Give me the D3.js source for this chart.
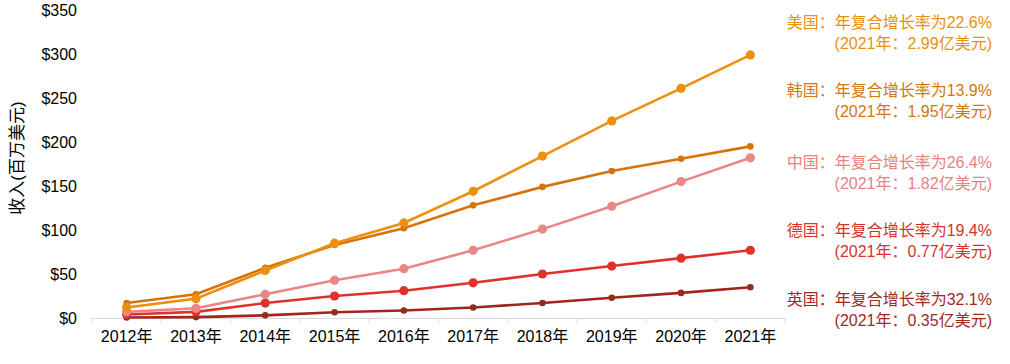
<!DOCTYPE html>
<html>
<head>
<meta charset="utf-8">
<script src="https://cdn.jsdelivr.net/npm/d3@7"></script>
<style>
  body { margin: 0; background: #fff; }
  svg text { font-family: "Liberation Sans", "Noto Sans CJK SC", sans-serif; }
</style>
</head>
<body>
<div id="chart"></div>
<script>
// data (millions of USD)
const years = ["2012年", "2013年", "2014年", "2015年", "2016年", "2017年", "2018年", "2019年", "2020年", "2021年"];
const usa = [12, 22, 54, 85, 108, 144, 184, 224, 261, 299];
const korea = [17, 27, 57, 83, 102, 128, 149, 167, 181, 195];
const china = [7, 11, 27, 43, 56, 77, 101, 127, 155, 182];
const germany = [4, 7, 17, 25, 31, 40, 50, 59, 68, 77];
const uk = [0.5, 1, 3, 6.5, 8.5, 12, 17, 23, 28.5, 35];
const yTicks = [0, 50, 100, 150, 200, 250, 300, 350];
const labels = [
  ["美国：年复合增长率为22.6%", "(2021年：2.99亿美元)"],
  ["韩国：年复合增长率为13.9%", "(2021年：1.95亿美元)"],
  ["中国：年复合增长率为26.4%", "(2021年：1.82亿美元)"],
  ["德国：年复合增长率为19.4%", "(2021年：0.77亿美元)"],
  ["英国：年复合增长率为32.1%", "(2021年：0.35亿美元)"]
];

const series = [
  { values: uk, line: "#a3231f", dot: "#8e3019", r: 3.3 },
  { values: germany, line: "#e0322b", dot: "#e0322b", r: 4.6 },
  { values: china, line: "#ec8585", dot: "#ec8585", r: 4.6 },
  { values: korea, line: "#d8720c", dot: "#d8720c", r: 3.3 },
  { values: usa, line: "#ee900f", dot: "#ee900f", r: 4.6 }
];
const labelColors = ["#e8900f", "#d5760f", "#ea8181", "#d8322b", "#a3281f"];

const width = 1010, height = 364;
const svg = d3.select("#chart").append("svg")
  .attr("width", width)
  .attr("height", height);

const x = d3.scaleBand().domain(years).range([92, 785]);
const y = d3.scaleLinear().domain([0, 350]).range([318, 10]);

// x axis
const xAxis = svg.append("g")
  .attr("transform", `translate(0, ${y(0)})`)
  .call(d3.axisBottom(x).tickSize(0).tickPadding(13));
xAxis.select(".domain").attr("stroke", "#d9d9d9").attr("stroke-width", 1.2);
xAxis.selectAll("text").attr("font-size", 16).attr("fill", "#000");
// boundary ticks between categories
svg.append("g").selectAll("line")
  .data(d3.range(years.length + 1))
  .enter()
  .append("line")
  .attr("x1", i => 92 + i * x.step())
  .attr("x2", i => 92 + i * x.step())
  .attr("y1", y(0))
  .attr("y2", y(0) + 5)
  .attr("stroke", "#d9d9d9");

// y axis labels only
const yAxis = svg.append("g")
  .attr("transform", "translate(77, 0)")
  .call(d3.axisLeft(y).tickValues(yTicks).tickSize(0).tickPadding(0).tickFormat(d => "$" + d));
yAxis.select(".domain").remove();
yAxis.selectAll("text").attr("font-size", 16).attr("fill", "#000");

svg.append("text")
  .attr("transform", "rotate(-90)")
  .attr("x", -158)
  .attr("y", 23)
  .attr("text-anchor", "middle")
  .attr("font-size", 17)
  .attr("fill", "#000")
  .text("收入(百万美元)");

const line = d3.line()
  .x((d, i) => x(years[i]) + x.bandwidth() / 2)
  .y(d => y(d));

series.forEach(s => {
  svg.append("path")
    .datum(s.values)
    .attr("d", line)
    .attr("fill", "none")
    .attr("stroke", s.line)
    .attr("stroke-width", 2.6);

  svg.append("g").selectAll("circle")
    .data(s.values)
    .enter()
    .append("circle")
    .attr("cx", (d, i) => x(years[i]) + x.bandwidth() / 2)
    .attr("cy", d => y(d))
    .attr("r", s.r)
    .attr("fill", s.dot);
});

// right-hand notes
const noteY = [22, 90, 162, 230, 299];
labels.forEach((pair, i) => {
  pair.forEach((t, j) => {
    svg.append("text")
      .attr("x", 992)
      .attr("y", noteY[i] + j * 21)
      .attr("dy", "0.35em")
      .attr("text-anchor", "end")
      .attr("font-size", 16)
      .attr("fill", labelColors[i])
      .text(t);
  });
});
</script>
</body>
</html>
